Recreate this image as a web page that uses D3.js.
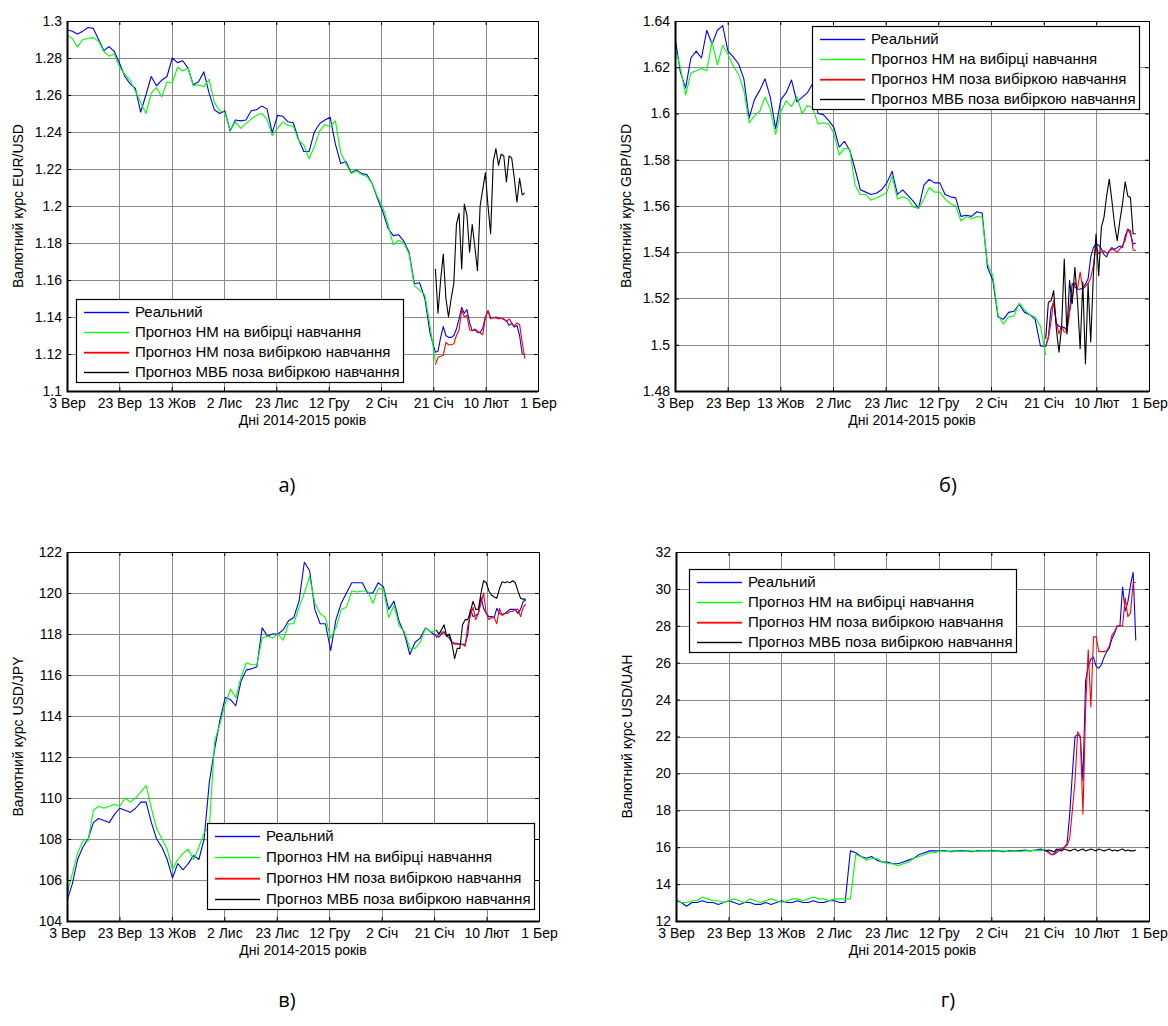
<!DOCTYPE html>
<html>
<head>
<meta charset="utf-8">
<script src="https://cdn.jsdelivr.net/npm/d3@7"></script>
<style>
  body { margin: 0; background: #fff; }
  text { font-family: "Liberation Sans", Arial, sans-serif; }
</style>
</head>
<body>
<svg id="chart" width="1168" height="1026"></svg>
<script>
// ---- data ----
// x axis: days since 3 Sep 2014, ticks evenly spaced over 0..179
const xTickLabels = ["3 Вер", "23 Вер", "13 Жов", "2 Лис", "23 Лис", "12 Гру", "2 Січ", "21 Січ", "10 Лют", "1 Бер"]
const seriesNames = ["Реальний", "Прогноз НМ на вибірці навчання", "Прогноз НМ поза вибіркою навчання", "Прогноз МВБ поза вибіркою навчання"]
const xLabel = "Дні 2014-2015 років"

// real rate, days 0..138 every 2 days; test part days 140..174 daily
// training forecast days 0..140 every 2 days; out-of-sample forecasts days 140..174 daily

// EUR/USD
const eurReal = [1.2953, 1.2945, 1.2930, 1.2945, 1.2965, 1.2960, 1.2900, 1.2840, 1.2862, 1.2835,
  1.2770, 1.2700, 1.2660, 1.2635, 1.2508, 1.2600, 1.2700, 1.2650, 1.2680, 1.2700,
  1.2800, 1.2775, 1.2785, 1.2745, 1.2655, 1.2672, 1.2725, 1.2610, 1.2520, 1.2500,
  1.2515, 1.2405, 1.2465, 1.2460, 1.2465, 1.2515, 1.2520, 1.2540, 1.2525, 1.2395,
  1.2490, 1.2485, 1.2455, 1.2450, 1.2360, 1.2295, 1.2295, 1.2400, 1.2445, 1.2465,
  1.2480, 1.2335, 1.2230, 1.2240, 1.2180, 1.2195, 1.2175, 1.2170, 1.2120, 1.2040,
  1.1970, 1.1880, 1.1840, 1.1845, 1.1810, 1.1750, 1.1580, 1.1585, 1.1500, 1.1310]
const eurRealTest = [1.1210, 1.1215, 1.1290, 1.1348, 1.1300, 1.1290, 1.1290, 1.1300, 1.1335, 1.1390,
  1.1452, 1.1420, 1.1440, 1.1370, 1.1326, 1.1330, 1.1317, 1.1315, 1.1340, 1.1400,
  1.1434, 1.1395, 1.1395, 1.1400, 1.1395, 1.1392, 1.1388, 1.1380, 1.1355, 1.1365,
  1.1345, 1.1355, 1.1300, 1.1200, 1.1198]
const eurTrain = [1.2925, 1.2905, 1.2860, 1.2900, 1.2905, 1.2910, 1.2890, 1.2835, 1.2810, 1.2823,
  1.2750, 1.2710, 1.2680, 1.2620, 1.2560, 1.2500, 1.2610, 1.2640, 1.2590, 1.2670,
  1.2665, 1.2750, 1.2730, 1.2745, 1.2650, 1.2655, 1.2645, 1.2685, 1.2560, 1.2515,
  1.2505, 1.2410, 1.2455, 1.2420, 1.2445, 1.2470, 1.2490, 1.2500, 1.2470, 1.2380,
  1.2420, 1.2455, 1.2435, 1.2432, 1.2355, 1.2330, 1.2255, 1.2320, 1.2405, 1.2440,
  1.2430, 1.2460, 1.2290, 1.2230, 1.2175, 1.2190, 1.2170, 1.2160, 1.2120, 1.2050,
  1.1995, 1.1900, 1.1790, 1.1815, 1.1800, 1.1740, 1.1570, 1.1545, 1.1520, 1.1350, 1.1160]
const eurNN = [1.1142, 1.1182, 1.1188, 1.1192, 1.1263, 1.1250, 1.1250, 1.1255, 1.1300, 1.1330,
  1.1440, 1.1400, 1.1410, 1.1330, 1.1326, 1.1335, 1.1325, 1.1315, 1.1304, 1.1395,
  1.1434, 1.1390, 1.1398, 1.1395, 1.1390, 1.1393, 1.1390, 1.1375, 1.1390, 1.1368,
  1.1350, 1.1368, 1.1360, 1.1262, 1.1175]
const eurIMF = [1.166, 1.142, 1.160, 1.174, 1.150, 1.140, 1.150, 1.158, 1.190, 1.196,
  1.166, 1.201, 1.195, 1.175, 1.190, 1.178, 1.165, 1.200, 1.209, 1.218,
  1.200, 1.185, 1.224, 1.231, 1.222, 1.228, 1.227, 1.213, 1.227, 1.226,
  1.215, 1.202, 1.215, 1.206, 1.207]

// GBP/USD
const gbpReal = [1.6330, 1.6180, 1.6110, 1.6240, 1.6270, 1.6240, 1.6360, 1.6300, 1.6360, 1.6380,
  1.6270, 1.6245, 1.6215, 1.6150, 1.5980, 1.6060, 1.6100, 1.6150, 1.6070, 1.5935,
  1.6060, 1.6090, 1.6145, 1.6050, 1.6070, 1.6090, 1.6130, 1.6000, 1.5995, 1.5970,
  1.5940, 1.5855, 1.5880, 1.5840, 1.5760, 1.5670, 1.5660, 1.5650, 1.5655, 1.5670,
  1.5700, 1.5750, 1.5650, 1.5670, 1.5645, 1.5620, 1.5590, 1.5690, 1.5715, 1.5700,
  1.5700, 1.5650, 1.5640, 1.5635, 1.5555, 1.5560, 1.5555, 1.5575, 1.5570, 1.5335,
  1.5280, 1.5120, 1.5110, 1.5140, 1.5145, 1.5175, 1.5140, 1.5130, 1.5110, 1.4995]
const gbpRealTest = [1.4993, 1.5033, 1.5155, 1.5183, 1.5091, 1.5080, 1.5075, 1.5075, 1.5060, 1.5150,
  1.5265, 1.5250, 1.5240, 1.5240, 1.5247, 1.5262, 1.5285, 1.5380, 1.5420, 1.5435,
  1.5430, 1.5415, 1.5390, 1.5380, 1.5407, 1.5420, 1.5413, 1.5420, 1.5427, 1.5420,
  1.5470, 1.5500, 1.5480, 1.5436, 1.5440]
const gbpTrain = [1.6285, 1.6200, 1.6080, 1.6175, 1.6185, 1.6195, 1.6185, 1.6310, 1.6210, 1.6295,
  1.6255, 1.6205, 1.6170, 1.6100, 1.5960, 1.5990, 1.6010, 1.6070, 1.6020, 1.5910,
  1.6010, 1.6055, 1.6030, 1.6075, 1.6000, 1.6035, 1.6025, 1.5955, 1.5960, 1.5955,
  1.5915, 1.5820, 1.5850, 1.5845, 1.5690, 1.5650, 1.5650, 1.5625, 1.5635, 1.5645,
  1.5660, 1.5730, 1.5630, 1.5640, 1.5630, 1.5595, 1.5590, 1.5630, 1.5680, 1.5660,
  1.5660, 1.5630, 1.5610, 1.5600, 1.5535, 1.5555, 1.5545, 1.5555, 1.5550, 1.5350,
  1.5300, 1.5130, 1.5090, 1.5120, 1.5125, 1.5180, 1.5150, 1.5130, 1.5120, 1.5080, 1.4955]
const gbpNN = [1.4994, 1.5030, 1.5100, 1.5191, 1.5098, 1.5047, 1.5083, 1.5055, 1.5055, 1.5140,
  1.5206, 1.5270, 1.5242, 1.5314, 1.5242, 1.5252, 1.5265, 1.5290, 1.5342, 1.5429,
  1.5393, 1.5400, 1.5407, 1.5395, 1.5405, 1.5414, 1.5408, 1.5400, 1.5415, 1.5430,
  1.5450, 1.5500, 1.5494, 1.5410, 1.5407]
const gbpIMF = [1.5026, 1.5184, 1.5190, 1.5234, 1.5069, 1.4968, 1.5076, 1.5371, 1.5047, 1.5278,
  1.5177, 1.5335, 1.5191, 1.4983, 1.5271, 1.4918, 1.5263, 1.5012, 1.5306, 1.5479,
  1.5299, 1.5508, 1.5551, 1.5643, 1.5716, 1.5622, 1.5520, 1.5450, 1.5537, 1.5610,
  1.5705, 1.5643, 1.5636, 1.5480, 1.5480]

// USD/JPY
const jpyReal = [105.0, 105.8, 107.0, 107.6, 108.0, 108.8, 109.0, 108.9, 108.8, 109.2,
  109.5, 109.4, 109.3, 109.5, 109.8, 109.8, 108.8, 108.0, 107.6, 107.0,
  106.1, 106.8, 106.5, 106.8, 107.2, 107.0, 108.0, 110.8, 112.4, 113.8,
  114.9, 114.8, 114.5, 115.7, 116.25, 116.3, 116.4, 118.3, 117.9, 118.0,
  118.0, 118.2, 118.65, 118.8, 119.6, 121.5, 121.1, 119.2, 118.5, 118.5,
  117.2, 118.7, 119.5, 120.0, 120.5, 120.5, 120.5, 120.0, 120.0, 120.5,
  120.3, 119.2, 119.6, 118.6, 118.0, 117.0, 117.6, 117.8, 118.3, 118.1]
const jpyRealTest = [117.9, 117.85, 118.0, 118.1, 117.9, 117.8, 117.6, 117.55, 117.55, 117.5,
  117.5, 117.5, 118.0, 119.2, 118.85, 118.9, 119.0, 119.8, 119.25, 119.0,
  118.85, 118.85, 118.8, 119.25, 119.0, 118.95, 119.0, 119.1, 119.2, 119.2,
  119.2, 119.0, 119.2, 119.6, 119.65]
const jpyTrain = [105.3, 106.3, 107.3, 107.9, 107.9, 109.4, 109.6, 109.5, 109.6, 109.7,
  109.6, 110.0, 109.8, 110.0, 110.3, 110.6, 109.5, 108.5, 108.0, 107.5,
  106.5, 107.0, 107.3, 107.5, 107.0, 107.6, 108.3, 108.6, 112.8, 113.6,
  114.6, 115.3, 114.9, 115.9, 116.6, 116.5, 116.5, 117.8, 117.9, 117.8,
  118.0, 117.7, 118.5, 118.5, 119.3, 120.0, 120.8, 119.5, 119.0, 118.8,
  117.8, 118.3, 119.2, 119.3, 120.1, 120.05, 120.1, 120.1, 119.5, 120.2,
  120.2, 118.8, 119.4, 118.4, 118.1, 117.3, 117.3, 117.6, 118.3, 118.1, 118.2]
const jpyNN = [117.8, 118.0, 118.1, 118.1, 117.9, 117.95, 117.6, 117.5, 117.5, 117.5,
  117.5, 117.4, 118.4, 118.9, 119.3, 118.7, 119.0, 119.5, 120.0, 119.0,
  118.7, 118.8, 118.8, 118.5, 119.25, 118.9, 119.0, 119.0, 119.1, 119.1,
  119.2, 119.2, 118.85, 119.3, 119.45]
const jpyIMF = [118.2, 118.0, 118.2, 118.45, 117.9, 118.0, 117.5, 116.8, 117.3, 117.3,
  118.45, 118.7, 118.7, 119.1, 119.6, 119.2, 119.2, 120.0, 120.6, 120.5,
  120.1, 119.9, 119.8, 119.75, 120.2, 120.55, 120.5, 120.55, 120.5, 120.6,
  120.5, 120.1, 119.75, 119.7, 119.7]

// USD/UAH
const uahReal = [13.1, 13.0, 12.8, 13.0, 13.0, 13.1, 13.0, 13.0, 12.9, 13.0,
  13.1, 13.0, 12.9, 13.0, 13.0, 12.9, 12.9, 13.0, 12.9, 13.0,
  13.1, 13.0, 13.0, 13.1, 13.0, 13.0, 13.1, 13.0, 13.0, 13.1,
  13.1, 13.0, 13.0, 15.8, 15.7, 15.5, 15.4, 15.5, 15.3, 15.2,
  15.2, 15.1, 15.1, 15.2, 15.3, 15.4, 15.6, 15.7, 15.8, 15.8,
  15.8, 15.8, 15.75, 15.8, 15.8, 15.8, 15.75, 15.8, 15.8, 15.8,
  15.8, 15.8, 15.75, 15.8, 15.8, 15.8, 15.85, 15.8, 15.85, 15.9]
const uahRealTest = [15.8, 15.75, 15.6, 15.65, 15.8, 15.9, 15.9, 16.0, 16.2, 17.8,
  20.0, 22.0, 22.1, 22.0, 19.6, 25.0, 25.8, 26.2, 26.3, 25.8,
  25.7, 25.9, 26.3, 26.6, 26.8, 27.3, 27.6, 28.0, 28.0, 30.1,
  28.8, 29.3, 30.2, 30.9, 27.2]
const uahTrain = [13.2, 13.0, 13.0, 13.1, 13.1, 13.3, 13.2, 13.1, 13.1, 13.0,
  13.1, 13.2, 13.1, 13.0, 13.2, 13.1, 13.0, 13.1, 13.2, 13.1,
  13.0, 13.1, 13.2, 13.2, 13.1, 13.2, 13.3, 13.2, 13.2, 13.1,
  13.2, 13.2, 13.2, 13.2, 15.6, 15.5, 15.3, 15.4, 15.4, 15.2,
  15.1, 15.1, 15.0, 15.1, 15.2, 15.4, 15.5, 15.6, 15.7, 15.7,
  15.8, 15.75, 15.8, 15.8, 15.75, 15.8, 15.8, 15.75, 15.8, 15.8,
  15.75, 15.8, 15.8, 15.75, 15.8, 15.75, 15.8, 15.8, 15.85, 15.8, 15.9]
const uahNN = [15.8, 15.7, 15.6, 15.6, 15.7, 15.8, 15.9, 16.0, 16.1, 16.5,
  18.0, 19.6, 22.25, 22.0, 17.8, 23.5, 26.7, 23.6, 27.4, 27.4,
  26.6, 26.6, 26.6, 26.65, 26.9, 27.5, 27.7, 28.0, 28.0, 28.0,
  29.5, 28.5, 28.7, 30.35, 30.35]
const uahIMF = [15.8, 15.85, 15.8, 15.75, 15.9, 15.85, 15.8, 15.9, 15.85, 15.8,
  15.85, 15.9, 15.8, 15.85, 15.9, 15.8, 15.85, 15.9, 15.85, 15.8,
  15.9, 15.85, 15.8, 15.85, 15.9, 15.8, 15.85, 15.8, 15.85, 15.9,
  15.8, 15.85, 15.8, 15.8, 15.85]

// ---- layout ----
const colors = ["#0000ff", "#00ff00", "#ff0000", "#000000"]
const panels = [
  {real: eurReal, realTest: eurRealTest, train: eurTrain, nn: eurNN, imf: eurIMF,
   yDomain: [1.1, 1.3], yStep: 0.02, yLabel: "Валютний курс EUR/USD",
   box: {left: 67, top: 21, right: 538, bottom: 391}, legend: {x: 76, y: 299, gap: 20},
   tag: "а)", tagPos: [287, 485]},
  {real: gbpReal, realTest: gbpRealTest, train: gbpTrain, nn: gbpNN, imf: gbpIMF,
   yDomain: [1.48, 1.64], yStep: 0.02, yLabel: "Валютний курс GBP/USD",
   box: {left: 675, top: 21, right: 1149, bottom: 391}, legend: {x: 812, y: 26, gap: 20},
   tag: "б)", tagPos: [948, 485]},
  {real: jpyReal, realTest: jpyRealTest, train: jpyTrain, nn: jpyNN, imf: jpyIMF,
   yDomain: [104, 122], yStep: 2, yLabel: "Валютний курс USD/JPY",
   box: {left: 67, top: 552, right: 539, bottom: 921}, legend: {x: 207, y: 823, gap: 21},
   tag: "в)", tagPos: [287, 1000]},
  {real: uahReal, realTest: uahRealTest, train: uahTrain, nn: uahNN, imf: uahIMF,
   yDomain: [12, 32], yStep: 2, yLabel: "Валютний курс USD/UAH",
   box: {left: 676, top: 552, right: 1149, bottom: 921}, legend: {x: 689, y: 569, gap: 20},
   tag: "г)", tagPos: [948, 1000]}
]

const svg = d3.select("#chart")
const fmt = v => String(+v.toFixed(2))

panels.forEach((p, pi) => drawPanel(p, pi))

function drawPanel(p, pi) {
  const b = p.box
  const w = b.right - b.left
  const x = d3.scaleLinear().domain([0, 179]).range([b.left, b.right])
  const y = d3.scaleLinear().domain(p.yDomain).range([b.bottom, b.top])

  const nY = Math.round((p.yDomain[1] - p.yDomain[0]) / p.yStep)
  const yTicks = d3.range(nY + 1).map(i => p.yDomain[0] + i * p.yStep)
  const xTicks = xTickLabels.map((_, i) => i * 179 / 9)

  const g = svg.append("g")

  // grid
  const grid = g.append("g").attr("stroke", "#8a8a8a").attr("stroke-width", 1)
  grid.selectAll("line.gx").data(xTicks.slice(1, -1)).join("line").attr("class", "gx")
    .attr("x1", d => Math.round(x(d)) + 0.5).attr("x2", d => Math.round(x(d)) + 0.5)
    .attr("y1", b.top).attr("y2", b.bottom)
  grid.selectAll("line.gy").data(yTicks.slice(1, -1)).join("line").attr("class", "gy")
    .attr("y1", d => Math.round(y(d)) + 0.5).attr("y2", d => Math.round(y(d)) + 0.5)
    .attr("x1", b.left).attr("x2", b.right)

  // data lines
  const clipId = "clip" + pi
  g.append("clipPath").attr("id", clipId).append("rect")
    .attr("x", b.left).attr("y", b.top).attr("width", w).attr("height", b.bottom - b.top)

  const realPts = p.real.map((v, i) => [2 * i, v]).concat(p.realTest.map((v, i) => [140 + i, v]))
  const trainPts = p.train.map((v, i) => [2 * i, v])
  const nnPts = p.nn.map((v, i) => [140 + i, v])
  const imfPts = p.imf.map((v, i) => [140 + i, v])

  const line = d3.line().x(d => x(d[0])).y(d => y(d[1]))
  const lines = g.append("g").attr("clip-path", `url(#${clipId})`)
  ;[realPts, trainPts, nnPts, imfPts].forEach((pts, i) => {
    lines.append("path").datum(pts)
      .attr("d", line)
      .attr("fill", "none")
      .attr("stroke", colors[i])
      .attr("stroke-width", 1.1)
      .attr("stroke-linejoin", "round")
  })

  // axes, ticks pointing inwards on all four sides
  const yAxis = d3.axisLeft(y).tickValues(yTicks).tickFormat(fmt).tickSize(-4).tickPadding(5)
  const xAxis = d3.axisBottom(x).tickValues(xTicks).tickFormat((d, i) => xTickLabels[i]).tickSize(-4).tickPadding(7)
  const yRight = d3.axisRight(y).tickValues(yTicks).tickFormat("").tickSize(-4)
  const xTop = d3.axisTop(x).tickValues(xTicks).tickFormat("").tickSize(-4)

  const axes = [
    g.append("g").attr("transform", `translate(${b.left},0)`).call(yAxis),
    g.append("g").attr("transform", `translate(0,${b.bottom})`).call(xAxis),
    g.append("g").attr("transform", `translate(${b.right},0)`).call(yRight),
    g.append("g").attr("transform", `translate(0,${b.top})`).call(xTop)
  ]
  axes.forEach(a => {
    a.select(".domain").remove()
    a.selectAll("text").attr("font-size", 14).attr("font-family", "Liberation Sans, Arial, sans-serif").attr("fill", "#000")
    a.selectAll(".tick line").attr("stroke", "#000")
  })

  // box
  g.append("rect").attr("x", b.left + 0.5).attr("y", b.top + 0.5).attr("width", w).attr("height", b.bottom - b.top)
    .attr("fill", "none").attr("stroke", "#000").attr("stroke-width", 1)
  g.append("path").attr("d", `M${b.left + 0.5},${b.top}V${b.bottom + 0.5}H${b.right}`)
    .attr("fill", "none").attr("stroke", "#000").attr("stroke-width", 2)

  // labels
  g.append("text")
    .attr("transform", `translate(${b.left - 49},${(b.top + b.bottom) / 2}) rotate(-90)`)
    .attr("text-anchor", "middle").attr("dominant-baseline", "central")
    .attr("font-size", 14)
    .text(p.yLabel)
  g.append("text")
    .attr("x", (b.left + b.right) / 2).attr("y", b.bottom + 34)
    .attr("text-anchor", "middle").attr("font-size", 14)
    .text(xLabel)
  g.append("text")
    .attr("x", p.tagPos[0]).attr("y", p.tagPos[1] + 7)
    .attr("text-anchor", "middle").attr("font-size", 20)
    .style("font-family", "Open Sans, sans-serif")
    .text(p.tag)

  // legend (opaque, drawn over the lines)
  const lg = g.append("g").attr("transform", `translate(${p.legend.x},${p.legend.y})`)
  const lgH = 23 + 3 * p.legend.gap
  lg.append("rect").attr("x", 0.5).attr("y", 0.5).attr("width", 327).attr("height", lgH)
    .attr("fill", "#fff").attr("stroke", "#000").attr("stroke-width", 1.2)
  seriesNames.forEach((name, i) => {
    const ry = 13 + i * p.legend.gap
    lg.append("rect").attr("x", 8).attr("y", ry - 0.2).attr("width", 45).attr("height", i === 2 ? 1.8 : 1.4)
      .attr("fill", colors[i])
    lg.append("text").attr("x", 59).attr("y", ry + 5).attr("font-size", 15).text(name)
  })
}
</script>
</body>
</html>
